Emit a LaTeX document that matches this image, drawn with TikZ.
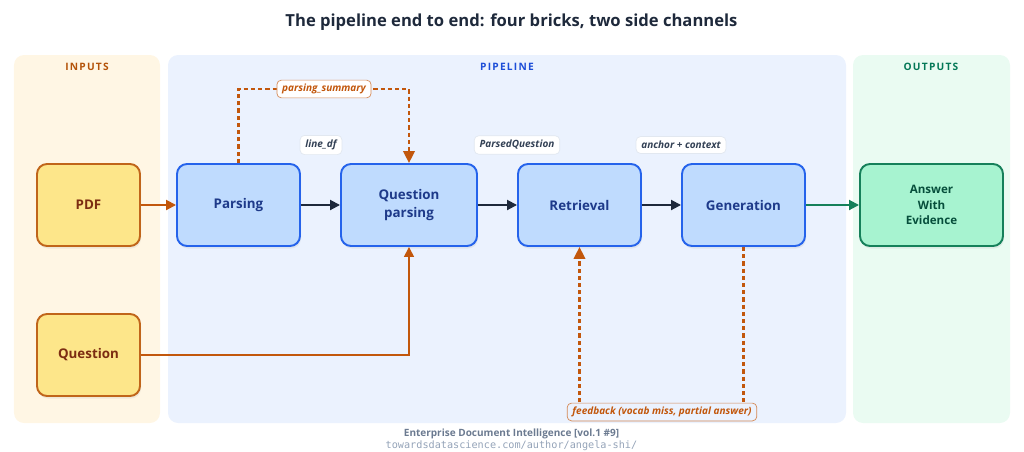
\documentclass[tikz,border=0pt]{standalone}
\usepackage{fontspec}
\setmainfont{Open Sans}
\setmonofont{DejaVu Sans Mono}
\usepackage{xcolor}
\usetikzlibrary{arrows.meta,calc,positioning,shadows}
\definecolor{inbg}{HTML}{FFF6E4}
\definecolor{pipebg}{HTML}{EBF2FE}
\definecolor{outbg}{HTML}{EAFBF2}
\definecolor{intitle}{HTML}{B45309}
\definecolor{pipetitle}{HTML}{1D4ED8}
\definecolor{outtitle}{HTML}{047857}
\definecolor{infill}{HTML}{FDE68A}
\definecolor{inborder}{HTML}{C0651A}
\definecolor{intext}{HTML}{7C2D12}
\definecolor{brickfill}{HTML}{BFDBFE}
\definecolor{brickborder}{HTML}{2563EB}
\definecolor{bricktext}{HTML}{1E3A8A}
\definecolor{outfill}{HTML}{A7F3D0}
\definecolor{outborder}{HTML}{15805A}
\definecolor{outtext}{HTML}{064E3B}
\definecolor{flow}{HTML}{1E293B}
\definecolor{side}{HTML}{C2570C}
\definecolor{tagline}{HTML}{E2E8F0}
\definecolor{tagtext}{HTML}{334155}
\definecolor{foot}{HTML}{6B7A90}
\definecolor{footurl}{HTML}{94A3B8}

\begin{document}
\begin{tikzpicture}[
  font=\fontsize{7.5}{9}\selectfont,
  paneltitle/.style={font=\fontsize{5.8}{7}\selectfont\bfseries\addfontfeature{LetterSpace=12}},
  box/.style={draw, line width=1.1pt, rounded corners=0.2cm, align=center, minimum height=1.64cm,
    font=\fontsize{7.6}{10.2}\selectfont\bfseries,
    drop shadow={opacity=0.12, shadow xshift=0.02cm, shadow yshift=-0.05cm}},
  innode/.style={box, fill=infill, draw=inborder, text=intext, minimum width=2.06cm},
  brick/.style={box, fill=brickfill, draw=brickborder, text=bricktext, minimum width=2.46cm},
  outnode/.style={box, fill=outfill, draw=outborder, text=outtext, minimum width=2.86cm,
    font=\fontsize{6.6}{8.8}\selectfont\bfseries},
  tag/.style={draw=tagline, fill=white, rounded corners=2.5pt, inner xsep=3pt, inner ysep=2.6pt, text=tagtext,
    font=\fontsize{5.7}{7}\selectfont\bfseries\itshape},
  sidetag/.style={tag, draw=side!70, text=side, inner ysep=2.2pt},
  arr/.style={-{Triangle[length=2mm, width=2mm]}, line width=1.1pt, draw=flow},
  dasharr/.style={-{Triangle[length=2.4mm, width=2.3mm]}, line width=1.15pt, draw=side, dash pattern=on 2.4pt off 1.7pt}
]
\useasboundingbox (0,0) rectangle (20.48,9.02);

% panels
\fill[inbg, rounded corners=0.2cm] (0.28,0.56) rectangle (3.20,7.92);
\fill[pipebg, rounded corners=0.2cm] (3.36,0.56) rectangle (16.92,7.92);
\fill[outbg, rounded corners=0.2cm] (17.06,0.56) rectangle (20.20,7.92);

\node[font=\fontsize{9.45}{11}\selectfont\bfseries, text=flow] (title) at (10.23,8.58) {The pipeline end to end: four bricks, two side channels};
\node[paneltitle, text=intitle] (intitle) at (1.74,7.68) {INPUTS};
\node[paneltitle, text=pipetitle] (pipetitle) at (10.14,7.68) {PIPELINE};
\node[paneltitle, text=outtitle] (outtitle) at (18.62,7.68) {OUTPUTS};

% main row
\node[innode] (pdf) at (1.77,4.92) {PDF};
\node[innode] (question) at (1.77,1.92) {Question};
\node[brick] (parse) at (4.77,4.92) {Parsing};
\node[brick, minimum width=2.72cm] (qparse) at (8.18,4.92) {Question\\parsing};
\node[brick] (retr) at (11.59,4.92) {Retrieval};
\node[brick] (gen) at (14.87,4.92) {Generation};
\node[outnode] (answer) at (18.63,4.92) {Answer\\With\\Evidence};

\draw[arr, draw=side] (pdf) -- (parse);
\draw[arr] (parse) -- (qparse);
\draw[arr] (qparse) -- (retr);
\draw[arr] (retr) -- (gen);
\draw[arr, draw=outborder] (gen) -- (answer);
\draw[arr, draw=side, line width=0.9pt] (question.east) -| (qparse.south);

% data tags
\node[tag] (linedf) at (6.42,6.12) {line\_df};
\node[tag] (pq) at (10.34,6.12) {ParsedQuestion};
\node[tag] (anchor) at (13.62,6.12) {anchor + context};

% side channels
\coordinate (psumpos) at (6.48,7.24);
\coordinate (fbpos) at (13.24,0.78);
\draw[dasharr] (parse.north) |- (psumpos) -| (qparse.north);
\draw[dasharr] (gen.south) |- (fbpos) -| (retr.south);
\node[sidetag] (psum) at (psumpos) {parsing\_summary};
\node[sidetag, fill=pipebg] (fb) at (fbpos) {feedback (vocab miss, partial answer)};

% footer
\node[font=\fontsize{5.7}{7}\selectfont\bfseries, text=foot] (credit) at (10.23,0.34) {Enterprise Document Intelligence [vol.1 \#9]};
\node[font=\fontsize{5.8}{7}\selectfont\ttfamily, text=footurl] (url) at (10.23,0.10) {towardsdatascience.com/author/angela-shi/};
\end{tikzpicture}
\end{document}
